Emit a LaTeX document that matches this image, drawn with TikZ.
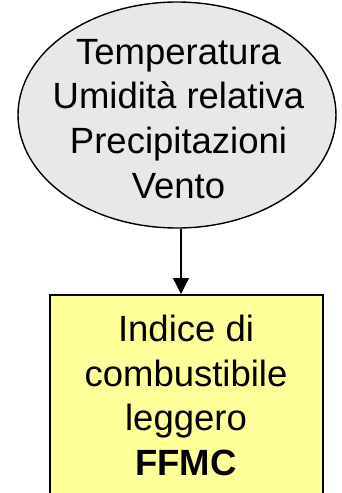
\documentclass[tikz,border=0pt]{standalone}
\usepackage{fontspec}
\setmainfont{Liberation Sans}
\usetikzlibrary{shapes.geometric,arrows.meta,calc}
\definecolor{cloudgray}{HTML}{E8E8E8}
\definecolor{boxyellow}{HTML}{FFFF99}
\begin{document}
\begin{tikzpicture}[x=1pt,y=-1pt,
  cloudshape/.style={ellipse,draw=black,line width=1.4pt,fill=cloudgray,
    minimum width=318pt,minimum height=226pt,inner sep=0pt},
  boxshape/.style={rectangle,draw=black,line width=2.2pt,fill=boxyellow,
    minimum width=273pt,minimum height=240pt,inner sep=0pt,anchor=north},
  label/.style={align=center,inner sep=0pt,font=\fontsize{36.5}{44.6}\selectfont},
  conn/.style={draw=black,line width=1.4pt,-{Triangle[width=16pt,length=16pt]}}]
\path[use as bounding box,clip] (0,0) rectangle (342,493);
\fill[white] (0,0) rectangle (342,493);
\node[cloudshape] (e) at (177,115) {};
\node[label] (et) at (178.5,118.9) {Temperatura\\Umidità relativa\\Precipitazioni\\Vento};
\node[boxshape] (b) at (186.5,294) {};
\node[label] (bt) at (186,395.3) {Indice di\\combustibile\\leggero\\\textbf{FFMC}};
\draw[conn] ($(e.south)+(4,0)$) -- ($(b.north)+(-5.5,0)$);
\end{tikzpicture}
\end{document}
